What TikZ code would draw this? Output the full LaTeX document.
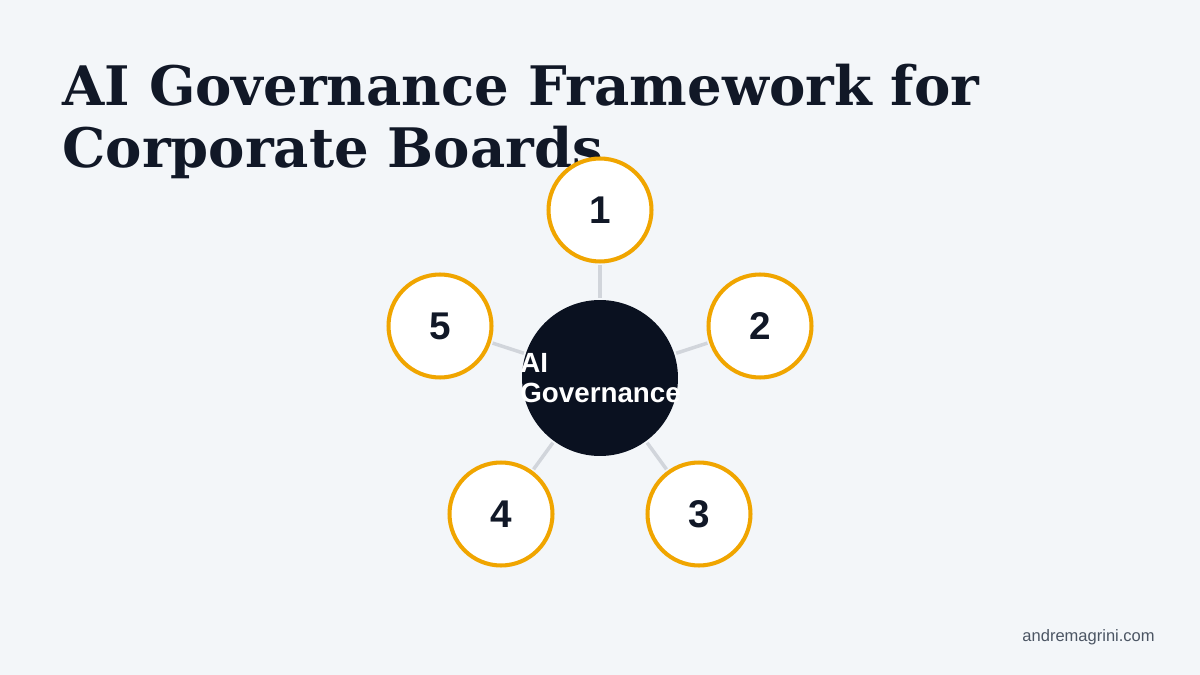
\documentclass[tikz,border=0pt]{standalone}
\usepackage{fontspec}
\setmainfont{Liberation Sans}
\newfontfamily\titlefont{DejaVu Serif}
\usetikzlibrary{arrows.meta}

\definecolor{pagebg}{HTML}{F3F6F9}
\definecolor{inkdark}{HTML}{111827}
\definecolor{hubfill}{HTML}{0A1120}
\definecolor{ringorange}{HTML}{F0A500}
\definecolor{spokegray}{HTML}{D1D5DB}
\definecolor{footgray}{HTML}{4B5563}

\tikzset{
    hub/.style={circle, fill=hubfill, minimum size=3.12cm, inner sep=0pt},
    pillar/.style={circle, draw=ringorange, line width=2.3pt, fill=white, minimum size=2.06cm, inner sep=0pt,
        font={\fontsize{22}{24}\selectfont\bfseries}, text=inkdark},
    spoke/.style={draw=spokegray, line width=2pt, shorten <=1pt, shorten >=1pt}
}

\begin{document}
\begin{tikzpicture}[x=0.02cm, y=-0.02cm]
            \fill[pagebg] (0, 0) rectangle (1200, 675);
            % title
            \node[anchor=base west, align=left, inner sep=0pt, text=inkdark,
                  font={\titlefont\fontsize{31}{35.7}\selectfont\bfseries}] (title) at (62, 168)
                  {AI Governance Framework for\\Corporate Boards};
            % hub and pillars
            \node[hub] (core) at (600, 378) {};
            \node[pillar] (p1) at (600, 210) {1};
            \node[pillar] (p2) at (760, 326) {2};
            \node[pillar] (p3) at (699, 514) {3};
            \node[pillar] (p4) at (501, 514) {4};
            \node[pillar] (p5) at (440, 326) {5};
            \draw[spoke] (core) -- (p1);
            \draw[spoke] (core) -- (p2);
            \draw[spoke] (core) -- (p3);
            \draw[spoke] (core) -- (p4);
            \draw[spoke] (core) -- (p5);
            \node[anchor=base west, align=left, inner sep=0pt, text=white,
                  font={\fontsize{15.8}{17}\selectfont\bfseries}] (corelabel) at (520, 402)
                  {AI\\Governance};
            % footer
            \node[anchor=base east, inner sep=0pt, text=footgray,
                  font={\fontsize{9.4}{11}\selectfont}] (site) at (1155, 641) {andremagrini.com};
        \end{tikzpicture}
\end{document}
